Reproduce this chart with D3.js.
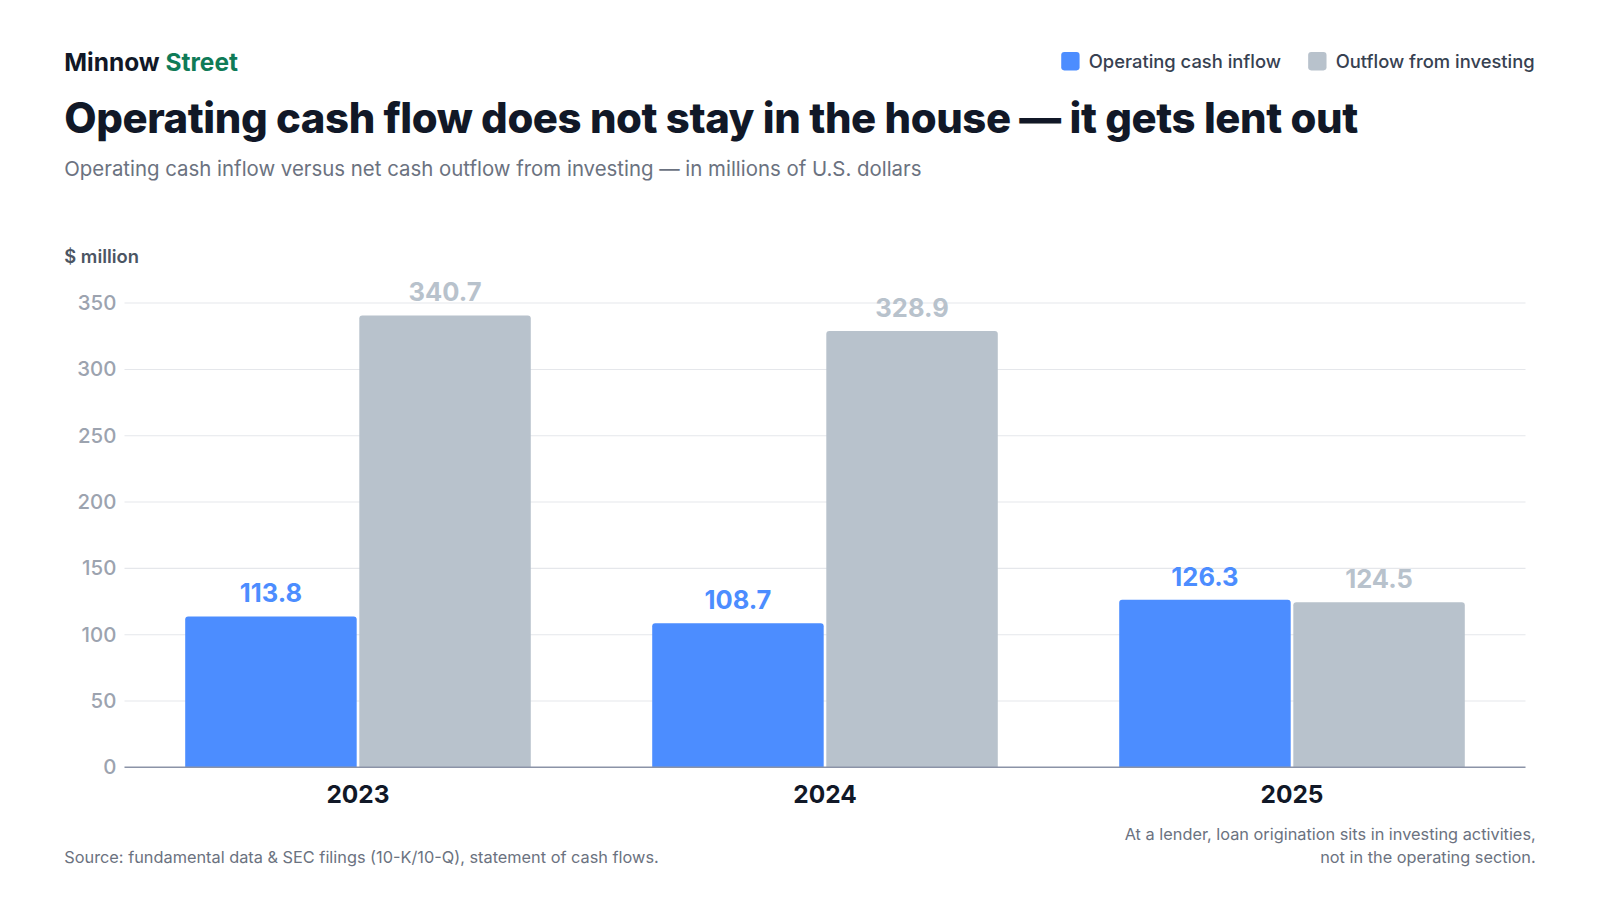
<!DOCTYPE html>
<html>
<head>
<meta charset="utf-8">
<script src="https://cdn.jsdelivr.net/npm/d3@7"></script>
<style>
  body { margin: 0; background: #fff; font-family: Inter, "Noto Sans", sans-serif; overflow: hidden; }
  svg { display: block; }
  svg text { font-family: Inter, "Noto Sans", sans-serif; }
</style>
</head>
<body>
<div id="chart"></div>
<script>
// data
var years = ["2023", "2024", "2025"];
var seriesNames = ["Operating cash inflow", "Outflow from investing"];
var operatingInflow = [113.8, 108.7, 126.3];
var investingOutflow = [340.7, 328.9, 124.5];
var yTicks = [0, 50, 100, 150, 200, 250, 300, 350];

var colors = ["#4c8dff", "#b8c2cc"];
var labelColors = ["#4c8dff", "#b8c2cc"];

var W = 1600, H = 900;
var margin = {top: 297, right: 105, bottom: 148, left: 122};
var width = W - margin.left - margin.right;
var height = H - margin.top - margin.bottom;

var svg = d3.select("#chart").append("svg")
    .attr("width", W)
    .attr("height", H)
    .attr("viewBox", "0 0 1568 882");

// header
var brand = svg.append("text").attr("x", 63).attr("y", 70)
    .attr("font-size", 24).attr("font-weight", 700);
brand.append("tspan").attr("fill", "#111827").text("Minnow ");
brand.append("tspan").attr("fill", "#0f7b57").text("Street");

svg.append("text").attr("x", 63).attr("y", 130)
    .attr("font-size", 41).attr("font-weight", 800).attr("fill", "#111827")
    .attr("letter-spacing", -0.4)
    .text("Operating cash flow does not stay in the house \u2014 it gets lent out");

svg.append("text").attr("x", 63).attr("y", 172)
    .attr("font-size", 20).attr("fill", "#6b7280")
    .text("Operating cash inflow versus net cash outflow from investing \u2014 in millions of U.S. dollars");

// legend
var legend = svg.append("g");
var lx = [1040, 1282];
seriesNames.forEach(function(name, i) {
    legend.append("rect").attr("x", lx[i]).attr("y", 51).attr("width", 18).attr("height", 18)
        .attr("rx", 3).attr("fill", colors[i]);
    legend.append("text").attr("x", lx[i] + 27).attr("y", 67)
        .attr("font-size", 18).attr("font-weight", 500).attr("fill", "#374151").text(name);
});

svg.append("text").attr("x", 63).attr("y", 258)
    .attr("font-size", 18).attr("font-weight", 600).attr("fill", "#4b5563").text("$ million");

var g = svg.append("g").attr("transform", "translate(" + margin.left + "," + margin.top + ")");

var x0 = d3.scaleBand().domain(years).range([0, width]).paddingInner(0.26).paddingOuter(0.13);
var x1 = d3.scaleBand().domain([0, 1]).range([0, x0.bandwidth()]).paddingInner(0.015);
var y = d3.scaleLinear().domain([0, 350]).range([height, 0]);

// grid
g.selectAll(".grid").data(yTicks.slice(1)).enter().append("line")
    .attr("x1", 0).attr("x2", width)
    .attr("y1", function(d) { return y(d); }).attr("y2", function(d) { return y(d); })
    .attr("stroke", "#e5e7eb").attr("stroke-width", 1);

var yAxis = g.append("g").call(d3.axisLeft(y).tickValues(yTicks).tickSize(0).tickPadding(8));
yAxis.select(".domain").remove();
yAxis.selectAll("text").attr("font-size", 20).attr("fill", "#9ca3af").attr("font-weight", 500);

var data = years.map(function(yr, i) { return {year: yr, values: [operatingInflow[i], investingOutflow[i]]}; });

var groups = g.selectAll(".grp").data(data).enter().append("g")
    .attr("transform", function(d) { return "translate(" + x0(d.year) + ",0)"; });

groups.selectAll("path").data(function(d) { return d.values; }).enter().append("path")
    .attr("fill", function(d, i) { return colors[i]; })
    .attr("d", function(d, i) {
        var bx = x1(i), bw = x1.bandwidth(), by = y(d), bh = height - y(d), r = 3;
        return "M" + bx + "," + (by + bh) + "V" + (by + r) + "Q" + bx + "," + by + " " + (bx + r) + "," + by +
            "H" + (bx + bw - r) + "Q" + (bx + bw) + "," + by + " " + (bx + bw) + "," + (by + r) + "V" + (by + bh) + "Z";
    });

groups.selectAll(".val").data(function(d) { return d.values; }).enter().append("text")
    .attr("x", function(d, i) { return x1(i) + x1.bandwidth() / 2; })
    .attr("y", function(d) { return y(d) - 14; })
    .attr("text-anchor", "middle").attr("font-size", 25).attr("font-weight", 700)
    .attr("fill", function(d, i) { return labelColors[i]; })
    .text(function(d) { return d.toFixed(1); });

// baseline + x axis
g.append("line").attr("x1", 0).attr("x2", width).attr("y1", height).attr("y2", height)
    .attr("stroke", "#8b93a7").attr("stroke-width", 1.5);

var xAxis = g.append("g").attr("transform", "translate(0," + height + ")")
    .call(d3.axisBottom(x0).tickSize(0).tickPadding(18));
xAxis.select(".domain").remove();
xAxis.selectAll("text").attr("font-size", 24).attr("font-weight", 700).attr("fill", "#111827");

// footer
svg.append("text").attr("x", 63).attr("y", 846).attr("font-size", 16).attr("fill", "#6b7280")
    .text("Source: fundamental data & SEC filings (10-K/10-Q), statement of cash flows.");
svg.append("text").attr("x", 1505).attr("y", 823).attr("text-anchor", "end").attr("font-size", 16).attr("fill", "#6b7280")
    .text("At a lender, loan origination sits in investing activities,");
svg.append("text").attr("x", 1505).attr("y", 846).attr("text-anchor", "end").attr("font-size", 16).attr("fill", "#6b7280")
    .text("not in the operating section.");
</script>
</body>
</html>
